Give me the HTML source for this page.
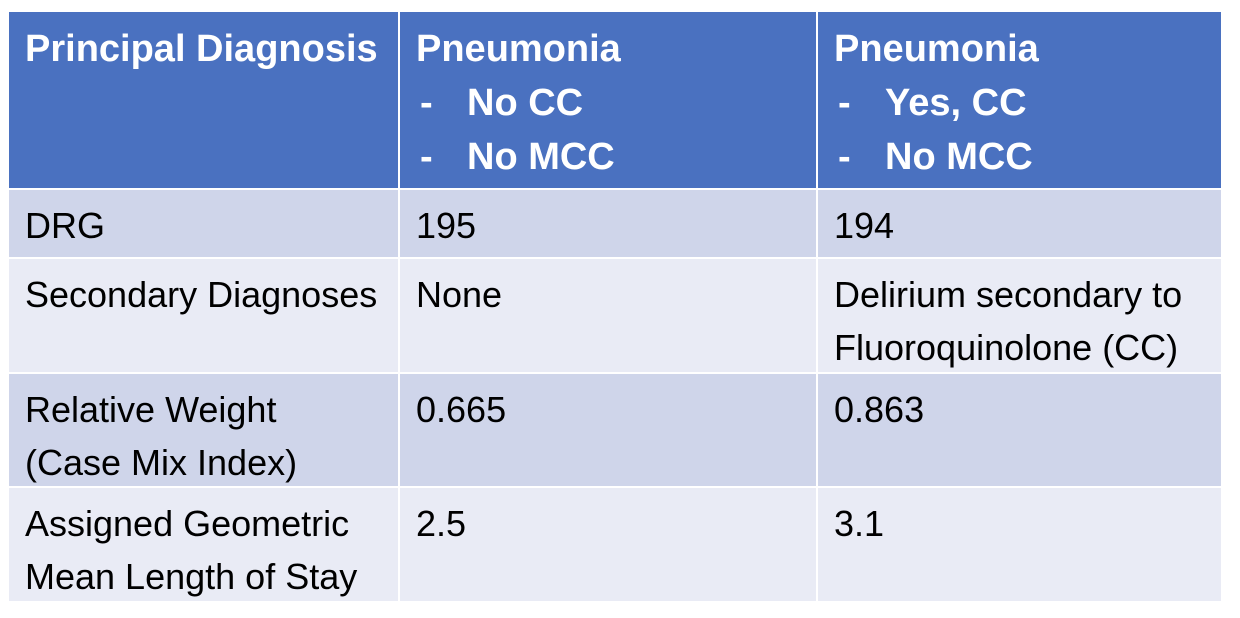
<!DOCTYPE html>
<html><head><meta charset="utf-8"><style>
body{margin:0;width:1240px;height:618px;background:#fff;font-family:"Liberation Sans",sans-serif;position:relative;overflow:hidden}
.c{position:absolute;box-sizing:border-box;padding:9px 0 0 16px;font-size:36px;line-height:53px;color:#000;white-space:nowrap}
.h{background:#4A71C0;color:#fff;font-weight:bold;font-size:38px;padding-top:10px;line-height:54px}
.o{background:#CFD5EA}.e{background:#E9EBF5}
.d{display:inline-block;width:51px;padding-left:4px;box-sizing:border-box}
</style></head><body>
<div class="c h" style="left:9px;top:12px;width:389px;height:176px">Principal Diagnosis</div>
<div class="c h" style="left:400px;top:12px;width:416px;height:176px">Pneumonia<br><span class="d">-</span>No CC<br><span class="d">-</span>No MCC</div>
<div class="c h" style="left:818px;top:12px;width:403px;height:176px">Pneumonia<br><span class="d">-</span>Yes, CC<br><span class="d">-</span>No MCC</div>

<div class="c o" style="left:9px;top:190px;width:389px;height:67px">DRG</div>
<div class="c o" style="left:400px;top:190px;width:416px;height:67px">195</div>
<div class="c o" style="left:818px;top:190px;width:403px;height:67px">194</div>

<div class="c e" style="left:9px;top:259px;width:389px;height:113px">Secondary Diagnoses</div>
<div class="c e" style="left:400px;top:259px;width:416px;height:113px">None</div>
<div class="c e" style="left:818px;top:259px;width:403px;height:113px">Delirium secondary to<br>Fluoroquinolone (CC)</div>

<div class="c o" style="left:9px;top:374px;width:389px;height:112px">Relative Weight<br>(Case Mix Index)</div>
<div class="c o" style="left:400px;top:374px;width:416px;height:112px">0.665</div>
<div class="c o" style="left:818px;top:374px;width:403px;height:112px">0.863</div>

<div class="c e" style="left:9px;top:488px;width:389px;height:113px">Assigned Geometric<br>Mean Length of Stay</div>
<div class="c e" style="left:400px;top:488px;width:416px;height:113px">2.5</div>
<div class="c e" style="left:818px;top:488px;width:403px;height:113px">3.1</div>
</body></html>
